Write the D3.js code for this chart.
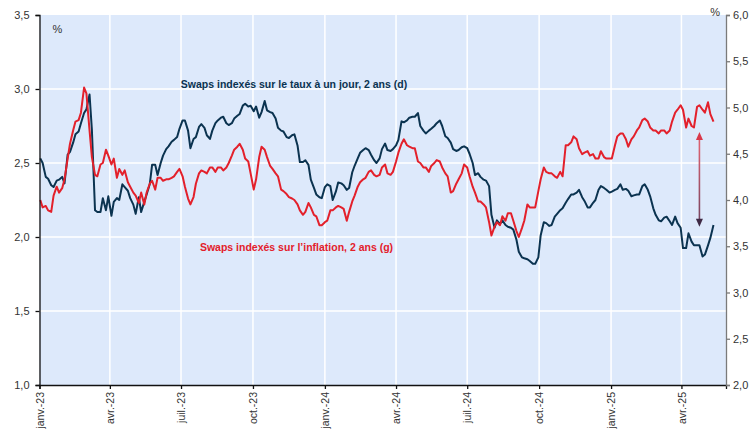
<!DOCTYPE html>
<html>
<head>
<meta charset="utf-8">
<script src="https://cdn.jsdelivr.net/npm/d3@7"></script>
<style>
  body { margin: 0; background: #fff; }
  svg { font-family: "Liberation Sans", Arial, sans-serif; }
  .axis text { fill: #333; font-size: 11px; }
  .xAxis text { font-size: 10.5px; }
</style>
</head>
<body>
<svg id="chart" width="753" height="433"></svg>
<script>
// twice-weekly observations (Monday / Thursday), janv. 2023 -> mai 2025
const dates = d3.timeDay.range(new Date(2023, 0, 2), new Date(2025, 4, 13))
  .filter(d => d.getDay() === 1 || d.getDay() === 4);

// Swaps indexés sur le taux à un jour, 2 ans — right axis (d)
const ois2y = [
  4.45, 4.40, 4.25, 4.23, 4.16, 4.14, 4.21, 4.22, 4.25, 4.18,
  4.49, 4.52, 4.62, 4.71, 4.74, 4.83, 4.94, 4.98, 5.14, 4.76,
  3.89, 3.87, 3.87, 4.02, 3.89, 4.04, 3.83, 3.98, 4.02, 4.00,
  4.17, 4.14, 4.10, 4.02, 3.95, 3.85, 4.03, 3.87, 3.98, 4.06,
  4.17, 4.38, 4.38, 4.27, 4.40, 4.48, 4.55, 4.58, 4.63, 4.65,
  4.68, 4.77, 4.86, 4.86, 4.75, 4.56, 4.66, 4.68, 4.79, 4.82,
  4.78, 4.70, 4.66, 4.75, 4.83, 4.86, 4.89, 4.90, 4.83, 4.81,
  4.83, 4.88, 4.91, 4.93, 5.02, 5.04, 5.01, 5.02, 4.96, 5.01,
  4.89, 4.95, 5.07, 4.97, 4.95, 4.94, 4.88, 4.78, 4.75, 4.74,
  4.68, 4.67, 4.70, 4.71, 4.59, 4.41, 4.41, 4.43, 4.38, 4.22,
  4.13, 4.06, 4.03, 4.02, 4.14, 4.17, 4.15, 4.00, 4.09, 4.19,
  4.18, 4.16, 4.11, 4.13, 4.30, 4.37, 4.45, 4.51, 4.54, 4.56,
  4.54, 4.49, 4.43, 4.40, 4.45, 4.55, 4.61, 4.54, 4.53, 4.55,
  4.59, 4.65, 4.85, 4.84, 4.86, 4.89, 4.90, 4.90, 4.94, 4.80,
  4.75, 4.72, 4.75, 4.77, 4.80, 4.83, 4.86, 4.80, 4.69, 4.67,
  4.62, 4.55, 4.53, 4.54, 4.57, 4.58, 4.56, 4.50, 4.40, 4.27,
  4.29, 4.25, 4.22, 4.21, 4.15, 3.84, 3.70, 3.78, 3.74, 3.78,
  3.73, 3.71, 3.70, 3.68, 3.57, 3.44, 3.38, 3.37, 3.36, 3.34,
  3.31, 3.31, 3.38, 3.62, 3.76, 3.75, 3.72, 3.73, 3.82, 3.85,
  3.89, 3.91, 3.97, 4.01, 4.06, 4.06, 4.08, 4.11, 4.03, 3.99,
  3.92, 3.92, 3.97, 4.00, 4.11, 4.15, 4.13, 4.11, 4.08, 4.09,
  4.11, 4.12, 4.17, 4.11, 4.12, 4.10, 4.04, 4.05, 4.06, 4.06,
  4.15, 4.17, 4.11, 4.04, 3.91, 3.84, 3.78, 3.77, 3.81, 3.82,
  3.77, 3.73, 3.82, 3.75, 3.70, 3.48, 3.48, 3.64, 3.55, 3.51,
  3.51, 3.51, 3.39, 3.41, 3.51, 3.59, 3.73
];

// Swaps indexés sur l'inflation, 2 ans — left axis (g)
const infl2y = [
  2.25, 2.20, 2.21, 2.18, 2.17, 2.28, 2.34, 2.30, 2.33, 2.39,
  2.53, 2.63, 2.72, 2.78, 2.79, 2.84, 3.01, 2.97, 2.72, 2.54,
  2.42, 2.41, 2.49, 2.50, 2.59, 2.55, 2.49, 2.53, 2.40, 2.46,
  2.42, 2.45, 2.37, 2.34, 2.30, 2.28, 2.23, 2.30, 2.22, 2.30,
  2.36, 2.38, 2.32, 2.40, 2.40, 2.38, 2.39, 2.39, 2.40, 2.41,
  2.44, 2.46, 2.41, 2.34, 2.26, 2.22, 2.27, 2.36, 2.43, 2.45,
  2.44, 2.43, 2.47, 2.47, 2.44, 2.47, 2.47, 2.45, 2.47, 2.50,
  2.55, 2.59, 2.61, 2.63, 2.59, 2.53, 2.51, 2.43, 2.32, 2.39,
  2.54, 2.61, 2.59, 2.54, 2.48, 2.46, 2.43, 2.41, 2.32, 2.31,
  2.29, 2.27, 2.26, 2.25, 2.22, 2.18, 2.15, 2.17, 2.23, 2.20,
  2.15, 2.14, 2.08, 2.08, 2.10, 2.11, 2.18, 2.18, 2.20, 2.21,
  2.20, 2.19, 2.11, 2.17, 2.24, 2.28, 2.34, 2.37, 2.39, 2.40,
  2.44, 2.45, 2.42, 2.41, 2.42, 2.47, 2.49, 2.43, 2.42, 2.44,
  2.51, 2.57, 2.63, 2.66, 2.62, 2.61, 2.60, 2.60, 2.51, 2.50,
  2.47, 2.47, 2.44, 2.48, 2.50, 2.52, 2.51, 2.47, 2.43, 2.41,
  2.30, 2.31, 2.36, 2.39, 2.43, 2.49, 2.47, 2.41, 2.34, 2.30,
  2.24, 2.24, 2.22, 2.20, 2.10, 2.01, 2.07, 2.10, 2.08, 2.14,
  2.11, 2.16, 2.16, 2.11, 2.04, 2.00, 2.06, 2.11, 2.22, 2.20,
  2.20, 2.20, 2.31, 2.39, 2.47, 2.44, 2.43, 2.43, 2.41, 2.40,
  2.44, 2.41, 2.62, 2.62, 2.64, 2.68, 2.66, 2.60, 2.56, 2.57,
  2.58, 2.55, 2.56, 2.53, 2.53, 2.58, 2.54, 2.53, 2.53, 2.53,
  2.62, 2.68, 2.70, 2.70, 2.66, 2.61, 2.66, 2.68, 2.72, 2.74,
  2.79, 2.80, 2.78, 2.74, 2.72, 2.72, 2.70, 2.72, 2.72, 2.70,
  2.72, 2.78, 2.84, 2.86, 2.89, 2.86, 2.74, 2.80, 2.75, 2.74,
  2.88, 2.89, 2.86, 2.84, 2.91, 2.83, 2.78
];

const leftTicks = [1.0, 1.5, 2.0, 2.5, 3.0, 3.5];
const rightTicks = [2.0, 2.5, 3.0, 3.5, 4.0, 4.5, 5.0, 5.5, 6.0];
const monthNames = ["janv.", "févr.", "mars", "avr.", "mai", "juin",
  "juil.", "août", "sept.", "oct.", "nov.", "déc."];

const labelOis = "Swaps indexés sur le taux à un jour, 2 ans (d)";
const labelInfl = "Swaps indexés sur l’inflation, 2 ans (g)";

// spread arrow: date, top (left axis), bottom (right axis)
const arrowDate = new Date(2025, 3, 24);
const arrowTop = 2.71;
const arrowBottom = 3.71;

const navy = "#0b3350";
const red = "#e3202b";

const svg = d3.select("#chart");
const margin = { top: 15, right: 27, bottom: 48, left: 39.5 };
const width = 753 - margin.left - margin.right;
const height = 433 - margin.top - margin.bottom;
const chart = svg.append("g").attr("transform", `translate(${margin.left},${margin.top})`);

const x = d3.scaleTime()
  .domain([new Date(2023, 0, 1), new Date(2025, 4, 28)])
  .range([0, width]);
const yLeft = d3.scaleLinear().domain([1, 3.5]).range([height, 0]);
const yRight = d3.scaleLinear().domain([2, 6]).range([height, 0]);

const comma = v => d3.format(".1f")(v).replace(".", ",");

// plot background
chart.append("rect")
  .attr("width", width)
  .attr("height", height)
  .attr("fill", "#dde9fb");

// grid lines
const quarters = x.ticks(d3.timeMonth.every(3));
chart.append("g")
  .selectAll("line")
  .data(quarters.slice(1))
  .join("line")
  .attr("x1", d => x(d)).attr("x2", d => x(d))
  .attr("y1", 0).attr("y2", height)
  .attr("stroke", "#fff").attr("stroke-width", 1.5);
chart.append("g")
  .selectAll("line")
  .data(leftTicks.slice(1, -1))
  .join("line")
  .attr("x1", 0).attr("x2", width)
  .attr("y1", d => yLeft(d)).attr("y2", d => yLeft(d))
  .attr("stroke", "#fff").attr("stroke-width", 1.5);

// series
const lineOis = d3.line().x((d, i) => x(dates[i])).y(d => yRight(d));
const lineInfl = d3.line().x((d, i) => x(dates[i])).y(d => yLeft(d));

chart.append("path")
  .datum(ois2y)
  .attr("d", lineOis)
  .attr("fill", "none").attr("stroke", navy)
  .attr("stroke-width", 2).attr("stroke-linejoin", "round");

chart.append("path")
  .datum(infl2y)
  .attr("d", lineInfl)
  .attr("fill", "none").attr("stroke", red)
  .attr("stroke-width", 2).attr("stroke-linejoin", "round");

// spread arrow
const ax = x(arrowDate);
const aTop = yLeft(arrowTop);
const aBot = yRight(arrowBottom);
const grad = svg.append("defs").append("linearGradient")
  .attr("id", "arrowGrad")
  .attr("gradientUnits", "userSpaceOnUse")
  .attr("x1", 0).attr("x2", 0)
  .attr("y1", aTop + margin.top).attr("y2", aBot + margin.top);
grad.append("stop").attr("offset", 0).attr("stop-color", "#d9606f");
grad.append("stop").attr("offset", 1).attr("stop-color", "#5a3d5c");

chart.append("line")
  .attr("x1", ax).attr("x2", ax)
  .attr("y1", aTop + 6).attr("y2", aBot - 6)
  .attr("stroke", "url(#arrowGrad)").attr("stroke-width", 1.6);
chart.append("path")
  .attr("d", `M${ax},${aTop} l-3.5,8 h7 z`)
  .attr("fill", "#d9384a");
chart.append("path")
  .attr("d", `M${ax},${aBot} l-3.5,-8 h7 z`)
  .attr("fill", "#3f2a45");

// axes
const xAxis = chart.append("g")
  .attr("class", "axis xAxis")
  .attr("transform", `translate(0,${height})`)
  .call(d3.axisBottom(x)
    .tickValues(quarters)
    .tickSize(4)
    .tickFormat(d => `${monthNames[d.getMonth()]}-${String(d.getFullYear()).slice(2)}`));
xAxis.selectAll("text")
  .attr("transform", "rotate(-90)")
  .attr("text-anchor", "end")
  .attr("x", -7)
  .attr("y", 0)
  .attr("dy", "0.35em");

chart.append("g")
  .attr("class", "axis yAxis")
  .call(d3.axisLeft(yLeft).tickValues(leftTicks).tickSize(4).tickPadding(6).tickFormat(comma));

const rightAxis = chart.append("g")
  .attr("class", "axis yAxisRight")
  .attr("transform", `translate(${width},0)`)
  .call(d3.axisRight(yRight).tickValues(rightTicks).tickSize(4).tickPadding(3).tickFormat(comma));
rightAxis.selectAll("path, line").attr("stroke", "#7a7a7a").attr("stroke-width", 1.3);

chart.selectAll(".xAxis path, .xAxis line, .yAxis path, .yAxis line")
  .attr("stroke", "#111").attr("stroke-width", 1.3);

// unit labels
chart.append("text")
  .attr("x", 13).attr("y", 18)
  .attr("font-size", 11).attr("fill", "#333")
  .text("%");
svg.append("text")
  .attr("x", 720).attr("y", 16)
  .attr("text-anchor", "end")
  .attr("font-size", 11).attr("fill", "#333")
  .text("%");

// series labels
svg.append("text")
  .attr("x", 294).attr("y", 88)
  .attr("text-anchor", "middle")
  .attr("font-size", 10.5).attr("font-weight", "bold")
  .attr("fill", navy)
  .text(labelOis);
svg.append("text")
  .attr("x", 296.5).attr("y", 251)
  .attr("text-anchor", "middle")
  .attr("font-size", 10.5).attr("font-weight", "bold")
  .attr("fill", red)
  .text(labelInfl);
</script>
</body>
</html>
